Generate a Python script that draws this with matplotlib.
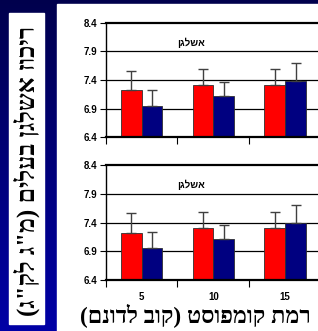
import numpy as np
import matplotlib
matplotlib.use("Agg")
import matplotlib.pyplot as plt
from matplotlib.patches import Rectangle

categories = ["5", "10", "15"]
red_values = [7.22, 7.31, 7.31]
red_err = [0.34, 0.28, 0.28]
blue_values = [6.95, 7.12, 7.39]
blue_err = [0.28, 0.24, 0.31]
yticks = [6.4, 6.9, 7.4, 7.9, 8.4]
panel_label = "אשלגן"
xlabel = "רמת קומפוסט (קוב לדונם)"
ylabel = "ריכוז אשלגן בעלים (מ\"ג לק\"ג)"


def visual(s):
    r = s[::-1]
    return r.translate(str.maketrans("()", ")("))


W, H = 318, 331
fig = plt.figure(figsize=(W / 100, H / 100), dpi=100)

# background gradient
bg = fig.add_axes([0, 0, 1, 1], zorder=-10)
grad = np.linspace(0, 1, 256)[:, None]
top = np.array([0x00, 0x00, 0x4d]) / 255
bot = np.array([0x00, 0x00, 0xa6]) / 255
img = top[None, None, :] * (1 - grad[:, :, None]) + bot[None, None, :] * grad[:, :, None]
bg.imshow(img, aspect="auto", extent=[0, 1, 0, 1], origin="upper")
bg.add_patch(Rectangle((57 / W, 0), 1, 1 - 4 / H, color="white"))
bg.add_patch(Rectangle((9 / W, 1 - 324 / H), 35 / W, (324 - 13) / H, color="white"))
bg.set_xlim(0, 1)
bg.set_ylim(0, 1)
bg.axis("off")

x = np.arange(len(categories))
bw = 0.29
sans = ["Liberation Sans", "DejaVu Sans"]
serif = ["Liberation Serif", "DejaVu Serif", "DejaVu Sans"]


def panel(ax, labels):
    ax.set_xlim(-0.5, 2.5)
    ax.set_ylim(6.4, 8.4)
    for yv in yticks[1:-1]:
        ax.axhline(yv, color="black", lw=0.9, zorder=1)
    ax.axhline(8.4, color="black", lw=1.6, zorder=1, clip_on=False)
    ax.bar(x - bw / 2, red_values, bw, color="#ff0000", edgecolor="#303030", lw=0.6, zorder=2)
    ax.bar(x + bw / 2, blue_values, bw, color="#000080", edgecolor="#303030", lw=0.6, zorder=2)
    ax.errorbar(x - bw / 2, red_values, yerr=[np.zeros(3), red_err], fmt="none",
                ecolor="#404040", elinewidth=1.0, capsize=3.5, capthick=1.0, zorder=3)
    ax.errorbar(x + bw / 2, blue_values, yerr=[np.zeros(3), blue_err], fmt="none",
                ecolor="#404040", elinewidth=1.0, capsize=3.5, capthick=1.0, zorder=3)
    for s in ["top", "right"]:
        ax.spines[s].set_visible(False)
    ax.spines["left"].set_linewidth(1.0)
    ax.spines["bottom"].set_linewidth(1.6)
    ax.set_yticks(yticks)
    ax.set_yticklabels([f"{v:.1f}" for v in yticks], fontsize=7, fontweight="bold",
                       family=sans)
    ax.tick_params(axis="y", length=4, width=0.8, pad=2)
    ax.set_xticks([-0.5, 0.5, 1.5, 2.5], minor=True)
    ax.tick_params(axis="x", which="minor", length=5, width=0.8, direction="out")
    ax.set_xticks(x)
    ax.tick_params(axis="x", which="major", length=0, pad=9)
    if labels:
        ax.set_xticklabels(categories, fontsize=7, fontweight="bold", family=sans)
    else:
        ax.set_xticklabels([])
    ax.text(0.694, 8.05, visual(panel_label), ha="center", va="center", fontsize=7,
            fontweight="bold", family=sans, zorder=4)
    ax.set_facecolor("none")


left = 105.7 / W
width = (321 - 105.7) / W
ax1 = fig.add_axes([left, 1 - 137.3 / H, width, (137.3 - 22.7) / H])
ax2 = fig.add_axes([left, 1 - 280 / H, width, (280 - 165) / H])
panel(ax1, False)
panel(ax2, True)

fig.text(195 / W, 1 - 315 / H, visual(xlabel), ha="center", va="center", fontsize=16.8,
         fontweight="bold", family=serif)
fig.text(27 / W, 1 - 171 / H, visual(ylabel), ha="center", va="center", fontsize=18,
         fontweight="bold", rotation=90, family=serif)

fig.savefig("out.png", dpi=100)
